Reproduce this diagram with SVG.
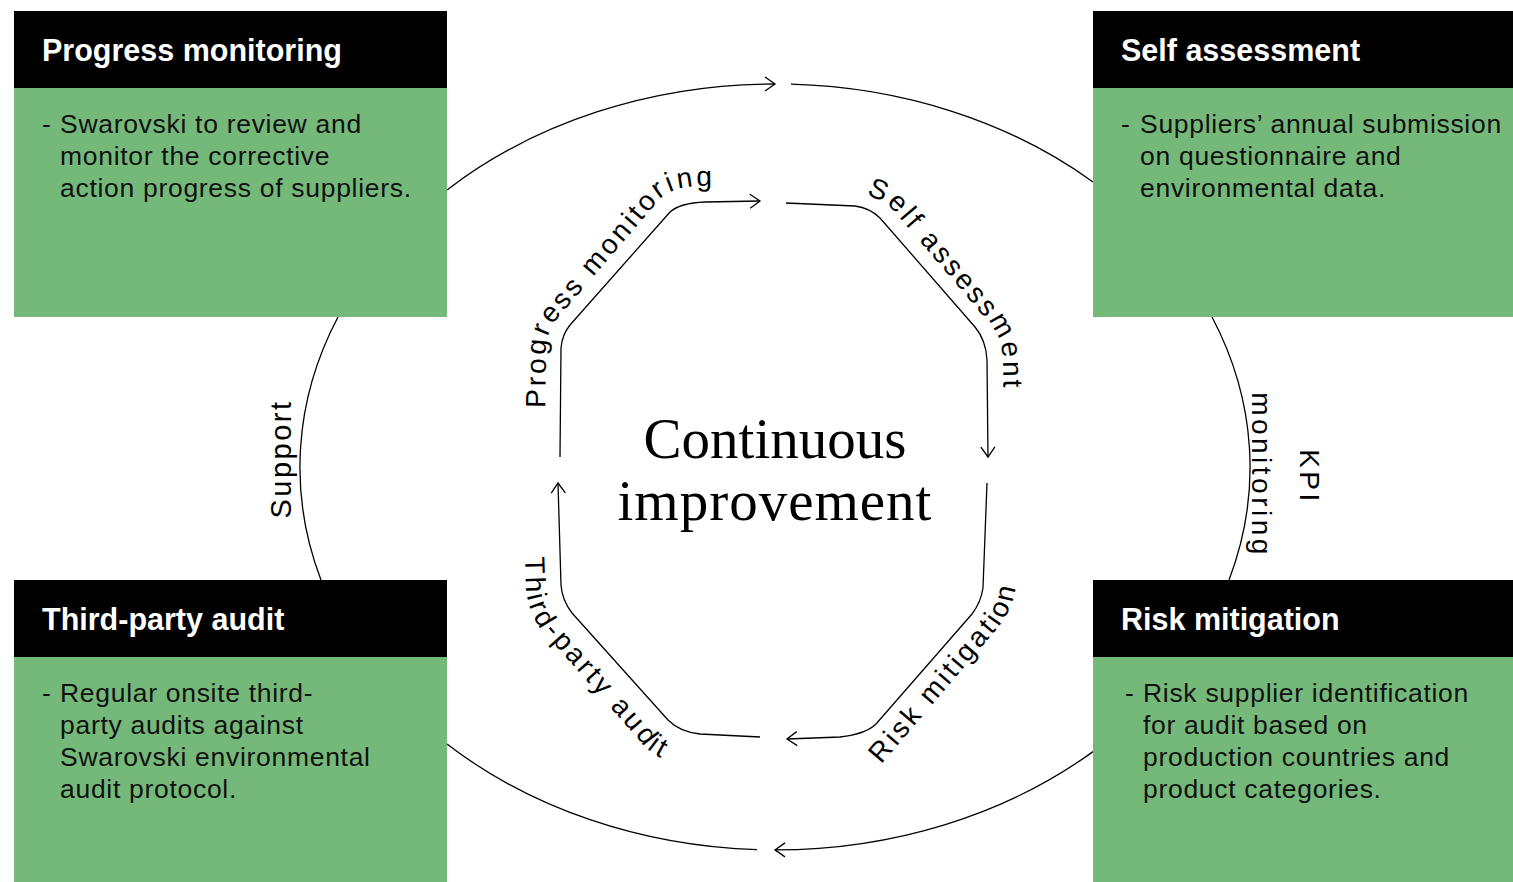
<svg xmlns="http://www.w3.org/2000/svg" width="1513" height="882" viewBox="0 0 1513 882">
<style>
.hdr{fill:#000}
.body{fill:#75B97A}
.ht{font-family:"Liberation Sans",Arial,sans-serif;font-weight:bold;font-size:30.5px;fill:#fff}
.bt{font-family:"Liberation Sans",Arial,sans-serif;font-size:26.5px;letter-spacing:0.7px;fill:#111}
.ln{fill:none;stroke:#000;stroke-width:1.3}
.lbl{font-family:"Liberation Sans",Arial,sans-serif;font-size:28px;letter-spacing:3px;fill:#000}
.ctr{font-family:"Liberation Serif","Times New Roman",serif;font-size:57px;fill:#000;text-anchor:middle}
</style>
<defs>
<marker id="ah" markerWidth="14" markerHeight="16" refX="11" refY="8" orient="auto" markerUnits="userSpaceOnUse">
<path d="M1,1 L11,8 L1,15" fill="none" stroke="#000" stroke-width="1.3"/>
</marker>
<path id="tpPM" d="M 545,420 L 546,348 Q 547,332 556,320 L 660,199 Q 672,187 700,186 L 770,185"/>
<path id="tpSA" d="M 850,193 Q 878,195 893,210 L 992,326 Q 1002,340 1003,360 L 1004,420"/>
<path id="tpRM" d="M 860,775 L 878,768 L 996,630 Q 1012,612 1016,585 L 1019,520"/>
<path id="tpTA" d="M 524,530 L 526,590 Q 528,610 540,628 L 640,741 Q 655,762 700,770 L 760,772"/>
</defs>
<g id="connectors">
<path class="ln" d="M 447,190 A 475 383 0 0 1 775,84" marker-end="url(#ah)"/>
<path class="ln" d="M 791,84.2 A 475 383 0 0 1 1093,182"/>
<path class="ln" d="M 1212,317 A 475 383 0 0 1 1229,580"/>
<path class="ln" d="M 1093,751.6 A 475 383 0 0 1 775,849.9" marker-end="url(#ah)"/>
<path class="ln" d="M 757,849.7 A 475 383 0 0 1 447,744"/>
<path class="ln" d="M 321,580 A 475 383 0 0 1 338,317"/>
<path class="ln" d="M 560,457 L 561,348 Q 562,335 570,325 L 670,212 Q 680,203 705,202 L 760,201" marker-end="url(#ah)"/>
<path class="ln" d="M 786,203 L 855,206 Q 870,208 880,218 L 975,327 Q 986,340 987,360 L 988,457" marker-end="url(#ah)"/>
<path class="ln" d="M 987,483 L 983,588 Q 981,602 972,614 L 876,724 Q 866,734 840,737 L 787,739" marker-end="url(#ah)"/>
<path class="ln" d="M 760,737 L 700,734 Q 680,732 668,720 L 572,613 Q 562,600 561,585 L 558,483" marker-end="url(#ah)"/>
</g>
<g id="labels">
<text class="lbl"><textPath href="#tpPM" startOffset="12">Progress monitoring</textPath></text>
<text class="lbl"><textPath href="#tpSA" startOffset="16">Self assessment</textPath></text>
<text class="lbl"><textPath href="#tpRM" startOffset="24">Risk mitigation</textPath></text>
<text class="lbl"><textPath href="#tpTA" startOffset="27">Third-party audit</textPath></text>
<text class="lbl" transform="translate(291,459) rotate(-90)" text-anchor="middle" style="font-size:29px;letter-spacing:2.5px">Support</text>
<text class="lbl" transform="translate(1300,477) rotate(90)" text-anchor="middle" style="font-size:28px;letter-spacing:3.5px"><tspan x="0" y="0">KPI</tspan><tspan x="-2" y="48">monitoring</tspan></text>
</g>
<g id="center">
<text class="ctr" x="775" y="458">Continuous</text>
<text class="ctr" x="775" y="520" style="letter-spacing:1px">improvement</text>
</g>
<g id="node-progress">
<rect class="body" x="14" y="88" width="433" height="229"/>
<rect class="hdr" x="14" y="11" width="433" height="77"/>
<text class="ht" x="42" y="61">Progress monitoring</text>
<text class="bt" x="42" y="133">-</text>
<text class="bt"><tspan x="60" y="133">Swarovski to review and</tspan><tspan x="60" y="165">monitor the corrective</tspan><tspan x="60" y="197">action progress of suppliers.</tspan></text>
</g>
<g id="node-self">
<rect class="body" x="1093" y="88" width="420" height="229"/>
<rect class="hdr" x="1093" y="11" width="420" height="77"/>
<text class="ht" x="1121" y="61">Self assessment</text>
<text class="bt" x="1121" y="133">-</text>
<text class="bt"><tspan x="1140" y="133">Suppliers’ annual submission</tspan><tspan x="1140" y="165">on questionnaire and</tspan><tspan x="1140" y="197">environmental data.</tspan></text>
</g>
<g id="node-third">
<rect class="body" x="14" y="657" width="433" height="225"/>
<rect class="hdr" x="14" y="580" width="433" height="77"/>
<text class="ht" x="42" y="630">Third-party audit</text>
<text class="bt" x="42" y="702">-</text>
<text class="bt"><tspan x="60" y="702">Regular onsite third-</tspan><tspan x="60" y="734">party audits against</tspan><tspan x="60" y="766">Swarovski environmental</tspan><tspan x="60" y="798">audit protocol.</tspan></text>
</g>
<g id="node-risk">
<rect class="body" x="1093" y="657" width="420" height="225"/>
<rect class="hdr" x="1093" y="580" width="420" height="77"/>
<text class="ht" x="1121" y="630">Risk mitigation</text>
<text class="bt" x="1125" y="702">-</text>
<text class="bt"><tspan x="1143" y="702">Risk supplier identification</tspan><tspan x="1143" y="734">for audit based on</tspan><tspan x="1143" y="766">production countries and</tspan><tspan x="1143" y="798">product categories.</tspan></text>
</g>
</svg>
